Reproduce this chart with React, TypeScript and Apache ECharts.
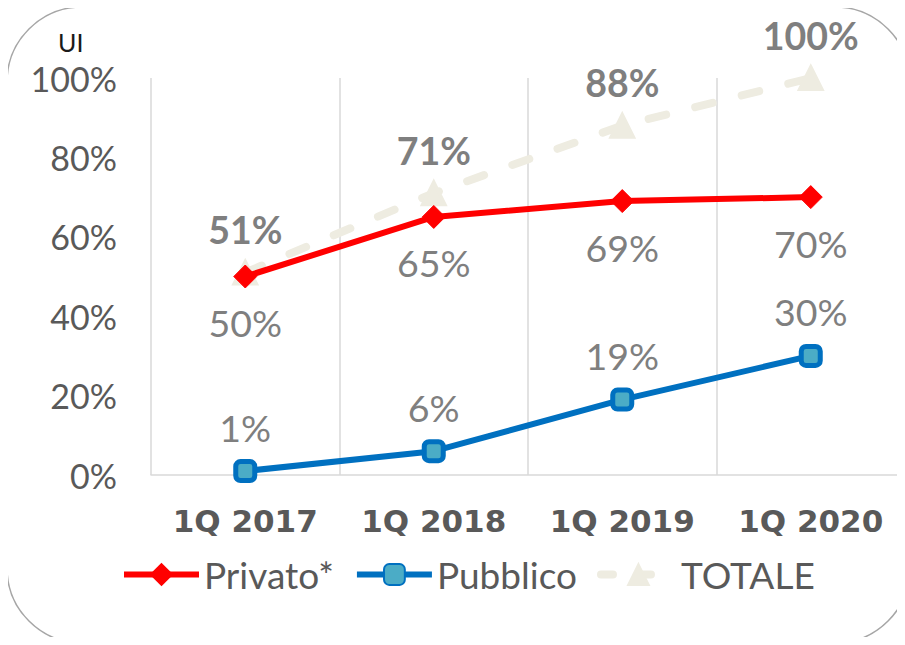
import React, { useEffect, useRef } from "react";
import * as echarts from "echarts";

const categories = ["1Q 2017", "1Q 2018", "1Q 2019", "1Q 2020"];
const privato = [50, 65, 69, 70];
const pubblico = [1, 6, 19, 30];
const totale = [51, 71, 88, 100];
const seriesNames = ["Privato*", "Pubblico", "TOTALE"];

const FONT = "Lato";

export default function App() {
  const ref = useRef<HTMLDivElement>(null);
  useEffect(() => {
    if (!ref.current) return;
    const chart = echarts.init(ref.current, null, { renderer: "svg" });
    chart.setOption({
      animation: false,
      backgroundColor: "#ffffff",
      graphic: [
        {
          type: "rect",
          shape: { x: 7, y: 7, width: 903, height: 636, r: 75 },
          style: { fill: "none", stroke: "#a6a6a6", lineWidth: 1.5 },
          z: 0,
        },
        {
          type: "text",
          x: 58,
          y: 29,
          style: { text: "UI", font: `25px ${FONT}`, fill: "#1a1a1a" },
        },
      ],
      grid: { left: 151, right: 0, top: 78, bottom: 170 },
      legend: {
        data: [
          {
            name: seriesNames[0],
            lineStyle: { width: 6, color: "#ff0000" },
          },
          {
            name: seriesNames[1],
            lineStyle: { width: 6, color: "#0070c0" },
          },
          {
            name: seriesNames[2],
            lineStyle: { width: 8, color: "#eeece1", type: [12, 26], cap: "round" },
          },
        ],
        left: 121,
        top: 556,
        padding: 0,
        itemWidth: 75,
        itemHeight: 26,
        itemGap: 20,
        textStyle: { fontFamily: FONT, fontSize: 37, color: "#595959" },
      },
      xAxis: {
        type: "category",
        data: categories,
        axisLine: { lineStyle: { color: "#d9d9d9", width: 1.5 } },
        axisTick: { show: false },
        splitLine: { show: true, interval: 0, lineStyle: { color: "#d9d9d9", width: 1.5 } },
        axisLabel: {
          interval: 0,
          fontFamily: "DejaVu Sans",
          fontWeight: "bold",
          fontSize: 31,
          color: "#595959",
          margin: 30,
        },
      },
      yAxis: {
        type: "value",
        min: 0,
        max: 100,
        interval: 20,
        axisLine: { show: false },
        axisTick: { show: false },
        splitLine: { show: false },
        axisLabel: {
          formatter: (v: number) => `${v}%`,
          fontFamily: FONT,
          fontSize: 34,
          color: "#595959",
          margin: 34,
        },
      },
      series: [
        {
          name: "Privato*",
          type: "line",
          data: privato,
          symbol: "diamond",
          symbolSize: 23,
          lineStyle: { color: "#ff0000", width: 6 },
          itemStyle: { color: "#ff0000", borderColor: "#ff0000", borderWidth: 1 },
          label: {
            show: true,
            position: "bottom",
            distance: 15,
            formatter: (p: any) => `${p.value}%`,
            fontFamily: FONT,
            fontSize: 37.5,
            color: "#7f7f7f",
          },
          z: 3,
        },
        {
          name: "Pubblico",
          type: "line",
          data: pubblico,
          symbol: "roundRect",
          symbolSize: 19,
          lineStyle: { color: "#0070c0", width: 6 },
          itemStyle: { color: "#4bacc6", borderColor: "#0070c0", borderWidth: 5 },
          label: {
            show: true,
            position: "top",
            distance: 13,
            formatter: (p: any) => `${p.value}%`,
            fontFamily: FONT,
            fontSize: 37.5,
            color: "#7f7f7f",
          },
          z: 4,
        },
        {
          name: "TOTALE",
          type: "line",
          data: totale,
          symbol: "triangle",
          symbolSize: 23,
          lineStyle: { color: "#eeece1", width: 8, type: [18, 30], cap: "round" },
          itemStyle: { color: "#eeece1", borderColor: "#eeece1", borderWidth: 3 },
          label: {
            show: true,
            position: "top",
            distance: 11,
            formatter: (p: any) => `${p.value}%`,
            fontFamily: FONT,
            fontWeight: "bold",
            fontSize: 37.5,
            color: "#7f7f7f",
          },
          z: 2,
        },
      ],
    });
    return () => chart.dispose();
  }, []);
  return <div ref={ref} style={{ width: 905, height: 645, margin: -8 }} />;
}
